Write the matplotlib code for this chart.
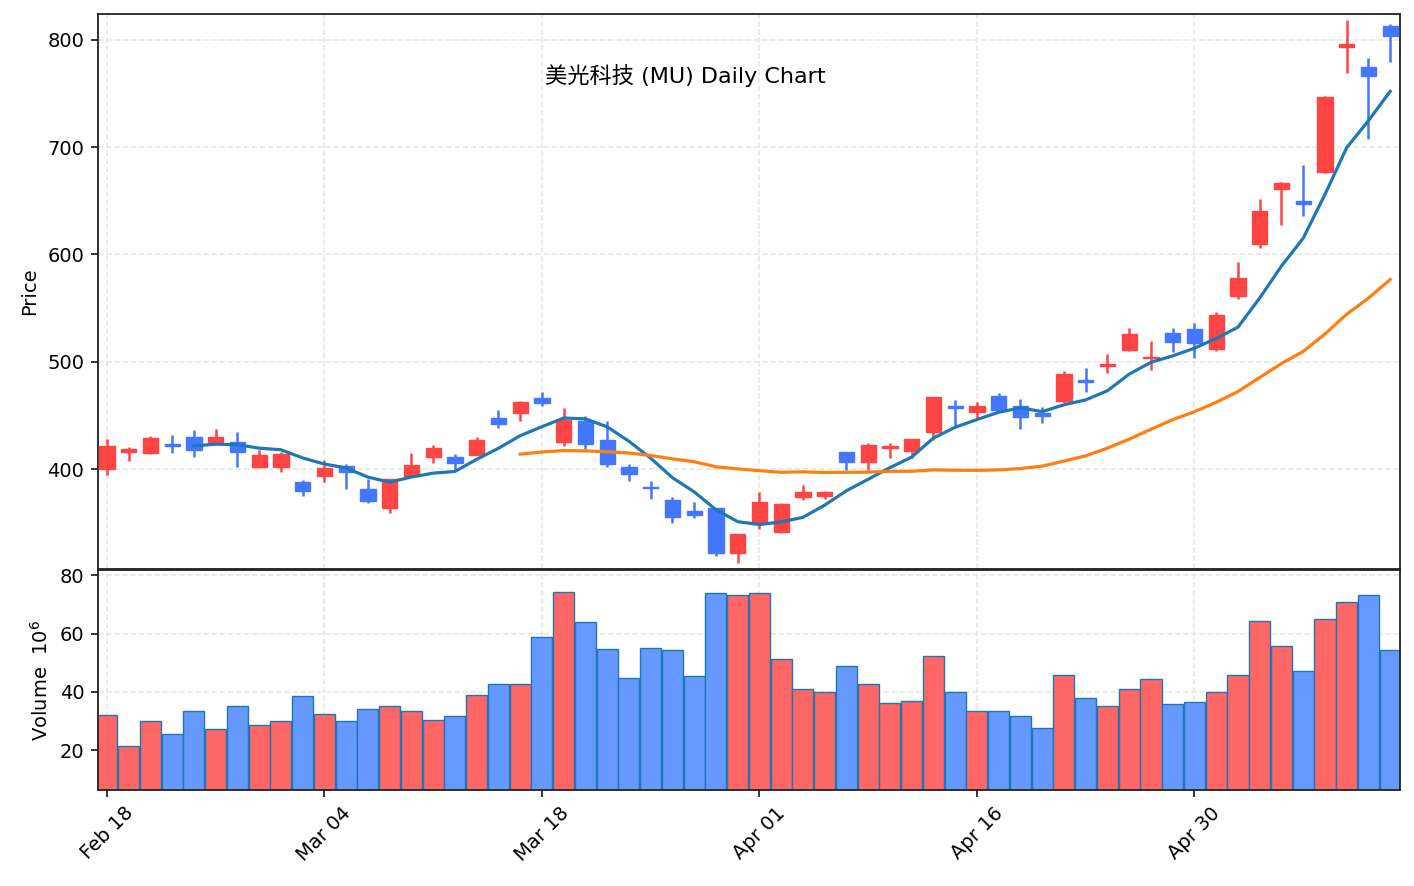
import numpy as np
import pandas as pd
import matplotlib
matplotlib.use("Agg")
import matplotlib.pyplot as plt
from matplotlib.patches import Rectangle

title = "美光科技 (MU) Daily Chart"

dates = pd.bdate_range("2026-02-18", "2026-05-13")
dates = dates[dates != pd.Timestamp("2026-04-03")]

opens = [399.7, 415.6, 414.6, 423.0, 429.6, 425.5, 425.5, 401.6, 401.6, 387.6,
         393.5, 403.0, 381.0, 363.6, 393.8, 410.9, 410.9, 413.3, 447.3, 451.9,
         465.9, 424.9, 444.8, 426.8, 401.6, 383.5, 371.1, 360.6, 363.4, 321.4,
         349.4, 341.0, 373.6, 374.8, 415.6, 406.8, 419.9, 416.8, 434.2, 458.4,
         452.9, 468.1, 459.0, 452.5, 463.4, 483.0, 496.0, 511.0, 503.2, 526.5,
         530.3, 511.6, 561.3, 609.5, 660.8, 650.2, 676.6, 793.8, 775.1, 813.3]
highs = [427.7, 420.5, 430.8, 431.7, 436.4, 437.3, 434.5, 417.7, 416.1, 389.7,
         408.1, 404.4, 391.0, 391.0, 414.9, 422.4, 414.0, 429.6, 455.0, 463.0,
         471.5, 456.6, 449.4, 444.8, 404.4, 388.8, 374.2, 369.2, 364.0, 339.5,
         378.3, 368.0, 385.1, 379.5, 416.0, 424.0, 424.0, 428.0, 467.0, 464.0,
         462.8, 471.1, 465.3, 457.5, 491.7, 493.9, 507.2, 531.2, 519.3, 531.2,
         535.9, 546.1, 592.7, 651.5, 667.5, 683.2, 747.5, 818.6, 782.9, 814.6]
lows = [394.7, 407.5, 414.0, 415.2, 411.5, 424.0, 402.2, 401.0, 397.5, 375.1,
        388.2, 381.0, 368.0, 358.7, 393.0, 405.9, 399.0, 413.0, 438.5, 445.0,
        459.0, 421.7, 418.4, 402.2, 389.1, 371.7, 349.9, 354.6, 319.2, 312.1,
        343.8, 340.0, 371.1, 372.0, 399.0, 399.0, 410.5, 410.5, 427.0, 439.4,
        447.3, 454.0, 437.0, 442.6, 461.3, 472.1, 489.8, 510.0, 492.3, 509.4,
        503.2, 510.3, 558.2, 606.4, 627.5, 635.9, 676.0, 769.0, 707.4, 779.8]
closes = [421.7, 418.6, 428.6, 421.4, 417.7, 429.6, 415.8, 412.7, 414.0, 379.5,
          401.2, 397.5, 370.2, 390.4, 403.4, 419.3, 405.3, 426.8, 441.7, 462.2,
          461.3, 445.7, 423.0, 404.4, 395.0, 382.3, 355.0, 356.8, 321.4, 339.1,
          368.9, 367.1, 378.3, 378.3, 406.2, 422.4, 421.1, 427.7, 466.9, 456.6,
          458.4, 455.0, 448.2, 449.4, 488.3, 481.4, 497.6, 525.6, 504.7, 518.1,
          517.2, 543.3, 577.8, 640.8, 666.9, 647.1, 747.1, 796.3, 766.4, 803.7]
volumes = [32.2, 21.3, 29.9, 25.5, 33.4, 27.2, 35.3, 28.5, 29.9, 38.7,
           32.6, 29.9, 34.3, 35.2, 33.6, 30.3, 31.6, 39.1, 42.8, 42.8,
           58.8, 74.4, 63.9, 54.7, 44.9, 55.1, 54.4, 45.6, 73.8, 73.4,
           74.1, 51.2, 41.1, 40.1, 48.9, 42.8, 36.3, 37.0, 52.3, 40.1,
           33.6, 33.3, 31.9, 27.5, 45.9, 38.0, 35.3, 41.1, 44.5, 36.0,
           36.5, 40.1, 45.9, 64.2, 55.7, 47.2, 65.0, 70.7, 73.4, 54.4]
mav = (5, 20)
tick_idx = [0, 10, 20, 30, 40, 50]

up_c, dn_c = "#ff4444", "#4477ff"
vup_c, vdn_c = "#ff6666", "#6699ff"

o = np.array(opens); h = np.array(highs); l = np.array(lows); c = np.array(closes)
v = np.array(volumes)
x = np.arange(len(c))
ups = c >= o

fig = plt.figure(figsize=(14.14, 8.86), dpi=100)
ax = fig.add_axes([0.0693, 0.3578, 0.9208, 0.6264])
axv = fig.add_axes([0.0693, 0.1084, 0.9208, 0.2483], sharex=ax)

grid_kw = dict(color="#e6e6e6", linestyle="--", linewidth=1.1)
for a in (ax, axv):
    a.grid(True, **grid_kw)
    a.set_axisbelow(True)
    for s in a.spines.values():
        s.set_color("#222222")
        s.set_linewidth(1.3)

bw = 0.7
for i in x:
    col = up_c if ups[i] else dn_c
    ax.vlines(i, l[i], h[i], color=col, linewidth=1.8, zorder=2)
    lo, hi = min(o[i], c[i]), max(o[i], c[i])
    ax.add_patch(Rectangle((i - bw / 2, lo), bw, max(hi - lo, 0.6),
                           facecolor=col, edgecolor=col, linewidth=1.0, zorder=3))

ser = pd.Series(c)
ma_cols = ["#1f77b4", "#ff7f0e"]
for m, mc in zip(mav, ma_cols):
    ax.plot(x, ser.rolling(m).mean(), color=mc, linewidth=2.3, zorder=4)

axv.bar(x, v, width=0.97, color=[vup_c if u else vdn_c for u in ups],
        edgecolor="#1f77b4", linewidth=1.0, zorder=2)

ax.set_xlim(-0.41, 59.45)
ax.set_ylim(306.8, 824.2)
axv.set_ylim(0.3 * v.min(), 1.1 * v.max())

fs = 14
ax.set_yticks([400, 500, 600, 700, 800])
axv.set_yticks([20, 40, 60, 80])
axv.set_xticks(tick_idx)
axv.set_xticklabels([dates[i].strftime("%b %d") for i in tick_idx],
                    rotation=45, ha="center", fontsize=fs)
ax.tick_params(axis="x", labelbottom=False, length=0)
for a in (ax, axv):
    a.tick_params(axis="y", labelsize=fs, length=4.9, width=1.1, pad=4.9)
axv.tick_params(axis="x", length=4.9, width=1.1, pad=4.9)
ax.set_ylabel("Price", fontsize=fs, labelpad=5.6)
axv.set_ylabel("Volume  $10^{6}$", fontsize=fs, labelpad=5.6)

fig.text(0.4845, 0.9153, title, ha="center", va="center", fontsize=16,
         family=["DejaVu Sans", "Noto Sans CJK SC"])

fig.savefig("out.png", dpi=100)
